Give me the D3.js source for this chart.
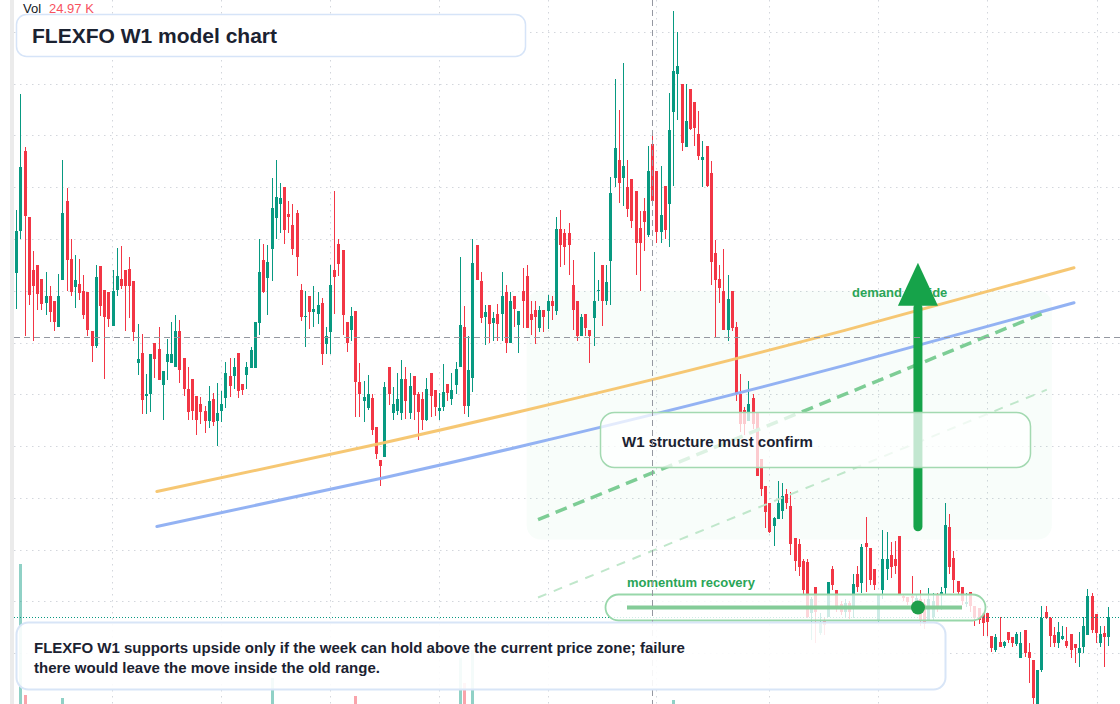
<!DOCTYPE html>
<html>
<head>
<meta charset="utf-8">
<script src="https://cdn.jsdelivr.net/npm/d3@7"></script>
<style>
  html, body { margin: 0; padding: 0; background: #ffffff; }
  svg { display: block; font-family: "Liberation Sans", Arial, Helvetica, sans-serif; }
</style>
</head>
<body>
<div id="wrap"></div>
<script>
//  Weekly candles, one value per week, oldest first
const opens = [
  76.7, 80.8, 88.5, 82.1, 77.0, 77.5, 76.1, 73.8, 74.5, 74.0,
  71.5, 76.0, 83.7, 78.1, 75.4, 75.7, 75.0, 74.9, 71.1, 69.7,
  77.4, 75.1, 74.9, 71.6, 75.1, 76.1, 77.0, 77.1, 75.9, 68.0,
  69.0, 64.8, 65.0, 70.0, 69.4, 65.9, 68.1, 68.0, 67.6, 71.1,
  68.5, 65.5, 66.5, 64.8, 64.1, 63.4, 62.4, 64.5, 62.4, 63.4,
  64.6, 66.8, 66.8, 69.0, 66.0, 66.9, 67.5, 67.5, 71.9, 78.0,
  76.2, 79.0, 82.0, 83.4, 85.0, 82.4, 81.4, 82.5, 75.1, 72.5,
  74.5, 72.9, 72.8, 73.8, 69.9, 71.0, 77.0, 79.5, 78.9, 72.0,
  71.2, 73.0, 66.2, 64.3, 63.7, 64.6, 61.8, 58.6, 58.9, 67.6,
  63.2, 63.4, 63.2, 66.5, 63.2, 66.8, 65.0, 64.5, 62.5, 67.1,
  65.4, 63.4, 63.8, 66.0, 64.5, 65.9, 67.6, 71.5, 63.9, 66.6,
  79.4, 75.9, 72.5, 73.6, 71.9, 72.8, 72.8, 74.9, 70.0, 74.5,
  71.7, 75.0, 76.4, 72.8, 73.1, 71.4, 73.1, 73.0, 74.0, 73.0,
  81.0, 80.6, 80.6, 75.6, 74.0, 70.6, 72.8, 71.2, 72.4, 75.0,
  77.5, 74.0, 77.9, 85.9, 87.6, 85.9, 85.0, 85.8, 84.6, 81.1,
  82.7, 80.4, 89.2, 86.6, 80.7, 85.1, 83.4, 92.3, 95.9, 95.0,
  88.9, 94.5, 93.2, 90.1, 87.6, 89.0, 86.4, 78.6, 76.1, 75.0,
  71.2, 75.0, 71.5, 65.0, 63.5, 62.4, 64.6, 63.3, 58.7, 56.1,
  54.5, 52.3, 52.9, 53.7, 55.4, 54.2, 51.1, 50.5, 48.9, 48.8,
  43.9, 46.4, 41.9, 43.2, 43.5, 48.1, 46.1, 44.7, 44.0, 44.8,
  44.5, 47.6, 46.8, 50.6, 50.1, 48.1, 43.2, 46.1, 48.1, 49.5,
  49.1, 51.3, 45.5, 45.4, 45.5, 44.8, 45.2, 44.7, 43.2, 43.5,
  45.6, 45.6, 46.3, 52.2, 49.2, 47.0, 46.4, 44.7, 45.9, 44.5,
  44.3, 43.9, 43.9, 41.6, 40.3, 41.1, 40.7, 42.0, 41.5, 40.9,
  39.5, 42.2, 40.1, 39.3, 35.1, 38.4, 44.0, 43.4, 41.7, 41.0,
  41.4, 41.2, 41.8, 40.9, 40.0, 40.6, 41.7, 45.5, 43.8, 41.0,
  41.9, 41.5
];
const highs = [
  82.8, 94.0, 88.9, 82.1, 78.8, 77.5, 76.1, 76.8, 75.5, 74.0,
  76.6, 87.6, 84.9, 80.0, 78.5, 78.1, 76.5, 74.9, 71.1, 77.5,
  77.4, 75.1, 74.9, 77.0, 79.1, 79.3, 77.0, 78.3, 75.9, 71.8,
  70.8, 67.0, 68.9, 70.0, 71.5, 67.2, 70.3, 72.0, 72.7, 72.2,
  68.5, 67.6, 66.5, 64.8, 64.7, 63.9, 65.8, 65.1, 66.1, 65.3,
  68.1, 68.5, 68.5, 69.0, 66.0, 68.1, 69.6, 72.0, 80.0, 79.5,
  79.4, 85.9, 87.6, 85.4, 85.0, 83.7, 83.4, 82.8, 75.7, 75.0,
  74.5, 75.5, 74.9, 74.3, 71.5, 77.5, 84.6, 80.0, 78.9, 72.0,
  73.4, 73.0, 68.0, 66.3, 66.9, 65.0, 61.8, 58.6, 66.2, 67.6,
  65.7, 67.1, 68.3, 67.6, 67.1, 66.8, 65.2, 65.2, 66.6, 67.1,
  65.4, 65.1, 67.9, 66.0, 67.1, 68.1, 78.3, 73.5, 70.6, 80.0,
  79.4, 76.8, 73.6, 73.6, 72.9, 73.7, 76.8, 75.6, 74.9, 74.5,
  73.0, 77.2, 77.5, 74.0, 74.0, 73.5, 73.1, 74.6, 74.5, 82.1,
  82.8, 81.0, 81.5, 78.0, 74.0, 72.8, 72.8, 71.2, 78.7, 76.0,
  77.5, 77.5, 86.0, 95.5, 92.5, 97.0, 87.6, 85.8, 84.6, 82.7,
  84.0, 89.0, 90.1, 86.6, 87.1, 85.1, 94.1, 102.0, 100.0, 95.0,
  95.0, 94.5, 93.2, 92.4, 89.5, 89.0, 87.5, 79.9, 77.5, 79.0,
  76.5, 75.0, 72.0, 67.0, 63.8, 66.3, 65.0, 63.3, 58.7, 56.1,
  54.5, 53.1, 56.6, 56.4, 55.8, 55.6, 51.1, 51.0, 49.1, 49.1,
  45.4, 46.4, 43.9, 43.4, 46.9, 48.4, 46.1, 45.0, 45.2, 45.0,
  47.6, 48.4, 50.5, 53.1, 50.1, 48.1, 45.6, 51.9, 51.7, 50.7,
  50.8, 51.3, 45.7, 45.4, 47.4, 45.6, 46.1, 45.2, 46.3, 45.8,
  45.8, 46.4, 54.5, 53.4, 49.9, 47.0, 46.4, 45.8, 45.9, 44.5,
  44.3, 43.9, 43.9, 41.6, 41.8, 43.5, 41.2, 42.0, 41.5, 42.0,
  42.0, 42.2, 41.0, 39.3, 38.4, 44.5, 44.5, 43.5, 42.5, 43.0,
  42.6, 42.5, 41.8, 40.9, 42.0, 43.5, 46.2, 45.8, 43.8, 42.6,
  42.6, 44.4
];
const lows = [
  73.2, 80.0, 70.6, 73.6, 70.1, 73.1, 73.1, 72.7, 72.0, 71.1,
  71.5, 76.0, 75.0, 74.5, 73.3, 74.1, 72.3, 70.6, 68.1, 69.5,
  72.6, 66.5, 71.5, 71.6, 74.5, 75.2, 71.1, 72.4, 70.1, 66.9,
  63.1, 63.1, 63.3, 66.6, 66.4, 62.5, 66.4, 68.0, 67.6, 66.1,
  64.8, 62.5, 62.5, 61.1, 62.1, 61.3, 61.7, 61.9, 60.0, 62.3,
  63.7, 64.7, 65.5, 64.6, 64.9, 65.5, 67.5, 67.5, 70.7, 74.8,
  72.7, 75.9, 80.0, 80.6, 79.5, 80.6, 78.5, 76.4, 72.1, 69.6,
  71.3, 71.5, 71.8, 67.8, 68.9, 68.9, 72.8, 76.4, 70.7, 69.1,
  70.1, 62.8, 62.8, 62.3, 63.5, 61.1, 58.7, 56.1, 58.9, 64.0,
  62.5, 63.0, 62.5, 62.6, 62.6, 62.5, 60.6, 61.5, 62.4, 62.8,
  62.9, 62.5, 63.4, 64.3, 64.0, 65.0, 67.6, 63.1, 62.8, 65.2,
  76.0, 71.9, 69.8, 70.0, 70.1, 70.1, 70.1, 69.0, 70.0, 71.5,
  69.0, 71.4, 71.4, 70.7, 69.9, 71.0, 71.0, 71.3, 72.2, 72.7,
  77.3, 77.5, 76.5, 71.2, 70.1, 70.6, 70.6, 68.0, 69.7, 74.0,
  71.6, 73.6, 73.6, 85.0, 83.5, 83.2, 82.1, 81.1, 76.5, 75.0,
  78.8, 80.2, 83.7, 79.6, 79.6, 80.0, 79.2, 85.1, 91.5, 88.5,
  88.9, 90.5, 89.0, 87.6, 85.0, 85.0, 75.6, 70.5, 73.8, 71.2,
  70.1, 71.1, 64.3, 61.4, 61.1, 62.4, 61.6, 57.1, 55.2, 52.1,
  51.6, 50.3, 52.9, 52.9, 53.9, 49.5, 47.9, 47.4, 45.6, 43.4,
  41.3, 41.0, 41.7, 41.7, 43.5, 46.1, 44.0, 43.7, 43.5, 43.3,
  43.4, 45.9, 45.8, 45.9, 46.6, 46.1, 43.0, 45.2, 47.1, 47.2,
  47.6, 45.6, 45.0, 44.6, 44.2, 44.0, 42.6, 42.3, 43.2, 43.2,
  44.0, 44.2, 45.6, 47.6, 45.8, 45.6, 44.6, 44.4, 44.0, 42.6,
  42.8, 41.6, 41.6, 40.1, 40.1, 40.6, 40.5, 41.0, 40.6, 40.7,
  39.5, 39.6, 37.1, 35.1, 34.8, 38.2, 43.3, 40.6, 40.6, 40.5,
  41.3, 40.5, 39.5, 39.0, 38.6, 40.0, 41.7, 41.9, 41.0, 40.6,
  38.6, 40.7
];
const closes = [
  80.8, 87.0, 82.2, 74.6, 75.5, 74.7, 73.7, 74.5, 72.9, 72.0,
  74.5, 82.5, 78.0, 74.9, 76.0, 74.8, 72.7, 71.2, 69.7, 76.3,
  73.5, 72.5, 72.3, 75.0, 76.4, 75.5, 75.5, 75.5, 71.0, 68.4,
  64.4, 65.0, 68.9, 68.4, 66.4, 67.2, 68.9, 68.9, 71.1, 67.3,
  65.5, 63.3, 63.4, 62.5, 63.3, 62.4, 64.3, 62.3, 63.2, 64.1,
  67.1, 65.8, 67.6, 65.3, 65.4, 67.6, 69.3, 72.0, 76.8, 74.9,
  77.8, 83.0, 84.1, 84.0, 80.9, 82.1, 79.0, 78.3, 72.5, 72.6,
  72.9, 73.2, 73.6, 68.9, 70.6, 75.6, 76.3, 77.6, 72.7, 70.0,
  72.6, 66.2, 65.0, 64.7, 65.0, 61.5, 59.2, 58.1, 65.7, 65.0,
  64.1, 64.5, 66.5, 64.3, 65.8, 64.9, 63.3, 62.5, 65.5, 64.8,
  63.8, 63.7, 65.2, 65.1, 65.4, 67.4, 71.7, 63.9, 67.3, 77.7,
  76.0, 72.4, 72.9, 71.8, 72.4, 71.8, 74.5, 70.0, 74.0, 73.2,
  73.0, 74.0, 71.4, 72.2, 72.5, 73.1, 72.5, 74.0, 73.5, 81.0,
  79.4, 79.2, 79.4, 73.1, 70.6, 72.5, 71.4, 70.6, 74.0, 75.1,
  74.0, 75.8, 84.4, 88.8, 85.4, 87.1, 82.9, 81.7, 79.6, 79.6,
  81.6, 86.6, 83.7, 80.7, 82.3, 80.9, 90.5, 96.2, 96.7, 89.3,
  91.4, 90.6, 90.7, 88.0, 87.9, 85.1, 77.8, 76.0, 75.3, 71.2,
  74.2, 71.4, 65.0, 62.1, 62.1, 64.1, 62.1, 57.1, 55.8, 53.6,
  51.7, 53.0, 54.5, 55.2, 54.5, 50.5, 48.9, 48.3, 46.1, 43.5,
  45.2, 44.0, 42.9, 42.7, 46.9, 46.6, 44.5, 44.0, 44.8, 44.0,
  46.7, 46.4, 50.2, 50.2, 47.1, 46.6, 45.6, 49.1, 49.1, 48.3,
  48.4, 45.6, 45.3, 44.9, 45.3, 45.3, 43.2, 42.8, 45.2, 45.0,
  44.4, 45.9, 52.4, 48.3, 47.1, 45.9, 45.0, 44.9, 44.5, 43.4,
  43.2, 42.9, 43.0, 40.5, 41.5, 40.6, 41.1, 41.3, 41.0, 41.8,
  41.0, 40.0, 39.5, 35.7, 38.4, 43.4, 43.4, 41.6, 41.0, 42.0,
  41.6, 40.7, 40.3, 40.5, 40.5, 42.6, 45.5, 42.2, 41.9, 41.8,
  41.5, 43.5
];

//  Only the volume bars that stand out in the picture (week index, volume in K)
const volumeWeeks = [1, 2, 11, 61, 81, 106, 107, 109, 157];
const volumeK = [3500, 225, 150, 650, 200, 1150, 525, 1350, 100];
const lastVolume = "24.97 K";

//  Grid: price levels and half-year week marks
const gridPrices = [40, 45, 50, 55, 60, 65, 70, 75, 80, 85, 90, 95, 100];
const gridWeeks = [22.9, 48.9, 75.0, 101.0, 127.1, 152.9, 179.9, 206.0, 232.0, 258.3];

//  Drawn objects, in (week, price)
const orangeTrend = [[33.6, 55.6], [88.4, 60.36], [143.2, 65.54], [198.0, 71.17], [252.8, 77.22]];
const blueTrend = [[33.6, 52.22], [88.4, 56.98], [143.2, 62.16], [198.0, 67.79], [252.8, 73.84]];
const greenDashUpper = [[124.7, 52.89], [246.3, 72.97]];
const greenDashLower = [[124.7, 45.36], [246.3, 65.44]];
const demandZone = { from: 122.0, to: 247.5, top: 75.0, bottom: 50.96 };
const arrowWeek = 215.5, arrowFrom = 52.2, arrowBase = 73.55, arrowTip = 77.7;
const crossWeek = 152, crossPrice = 70.5;

const W = 1120, H = 704;
const up = "#089981", down = "#f23645";

const x = d3.scaleLinear().domain([0, 261]).range([16.3, 1108.3]);
const y = d3.scaleLinear().domain([40, 100]).range([653, 32]);
const yVol = d3.scaleLinear().domain([0, 3600]).range([704, 560]);

const svg = d3.select("#wrap").append("svg")
  .attr("width", W).attr("height", H);

svg.append("rect").attr("width", W).attr("height", H).attr("fill", "#ffffff");
svg.append("rect").attr("x", 10).attr("y", 0).attr("width", 4).attr("height", H).attr("fill", "#ebebeb");

//  dotted grid
const grid = svg.append("g").attr("stroke", "#d3d6dc").attr("stroke-dasharray", "1.5,4.5");
grid.selectAll(".gh").data(gridPrices).enter().append("line")
  .attr("x1", 14).attr("x2", W)
  .attr("y1", d => Math.round(y(d)) + 0.5).attr("y2", d => Math.round(y(d)) + 0.5);
grid.selectAll(".gv").data(gridWeeks).enter().append("line")
  .attr("y1", 0).attr("y2", H)
  .attr("x1", d => Math.round(x(d)) + 0.5).attr("x2", d => Math.round(x(d)) + 0.5);

//  light demand zone behind the candles
svg.append("rect")
  .attr("x", x(demandZone.from)).attr("y", y(demandZone.top))
  .attr("width", x(demandZone.to) - x(demandZone.from))
  .attr("height", y(demandZone.bottom) - y(demandZone.top))
  .attr("rx", 14).attr("fill", "rgba(34,197,94,0.03)");

//  volume
svg.append("g").selectAll("rect").data(volumeWeeks).enter().append("rect")
  .attr("shape-rendering", "crispEdges")
  .attr("x", d => Math.round(x(d)) - 1).attr("width", 3)
  .attr("y", (d, k) => yVol(volumeK[k]))
  .attr("height", (d, k) => H - yVol(volumeK[k]))
  .attr("fill", d => closes[d] >= opens[d] ? "rgba(8,153,129,0.45)" : "rgba(242,54,69,0.45)");

//  candles
const candles = svg.append("g").attr("shape-rendering", "crispEdges");
const idx = d3.range(opens.length);
candles.selectAll(".wick").data(idx).enter().append("line")
  .attr("x1", i => Math.round(x(i)) + 0.5).attr("x2", i => Math.round(x(i)) + 0.5)
  .attr("y1", i => Math.round(y(highs[i]))).attr("y2", i => Math.round(y(lows[i])))
  .attr("stroke", i => closes[i] >= opens[i] ? up : down);
candles.selectAll(".body").data(idx).enter().append("rect")
  .attr("x", i => Math.round(x(i)) - 1).attr("width", 3)
  .attr("y", i => Math.round(y(Math.max(opens[i], closes[i]))))
  .attr("height", i => Math.max(1, Math.round(y(Math.min(opens[i], closes[i]))) - Math.round(y(Math.max(opens[i], closes[i])))))
  .attr("fill", i => closes[i] >= opens[i] ? up : down);

//  trend curves
const curve = d3.line().x(d => x(d[0])).y(d => y(d[1])).curve(d3.curveNatural);
svg.append("path").attr("d", curve(orangeTrend)).attr("fill", "none")
  .attr("stroke", "#f6c46c").attr("stroke-width", 3).attr("stroke-linecap", "round").attr("opacity", 0.95);
svg.append("path").attr("d", curve(blueTrend)).attr("fill", "none")
  .attr("stroke", "#8daef2").attr("stroke-width", 3).attr("stroke-linecap", "round").attr("opacity", 0.95);

const straight = d3.line().x(d => x(d[0])).y(d => y(d[1]));
svg.append("path").attr("d", straight(greenDashUpper)).attr("fill", "none")
  .attr("stroke", "#7dcd95").attr("stroke-width", 3.5).attr("stroke-dasharray", "12,7");
svg.append("path").attr("d", straight(greenDashLower)).attr("fill", "none")
  .attr("stroke", "#c0e7cb").attr("stroke-width", 2).attr("stroke-dasharray", "9,8");

//  label sits under the arrow head
svg.append("text").attr("x", 852).attr("y", 297)
  .attr("font-size", 13).attr("font-weight", "bold").attr("fill", "#2aa557")
  .text("demand upside");

const ax = x(arrowWeek);
svg.append("line").attr("x1", ax).attr("x2", ax)
  .attr("y1", y(arrowFrom)).attr("y2", y(arrowBase) + 2)
  .attr("stroke", "#16a34a").attr("stroke-width", 9).attr("stroke-linecap", "round");
svg.append("path")
  .attr("d", `M${ax - 20},${y(arrowBase)} L${ax + 20},${y(arrowBase)} L${ax},${y(arrowTip)} Z`)
  .attr("fill", "#16a34a");

//  last price line
const lastClose = closes[closes.length - 1];
svg.append("line").attr("x1", 14).attr("x2", W)
  .attr("y1", Math.round(y(lastClose)) + 0.5).attr("y2", Math.round(y(lastClose)) + 0.5)
  .attr("stroke", up).attr("stroke-dasharray", "1,2");

//  structure box
svg.append("rect").attr("x", 600.5).attr("y", 412.5).attr("width", 430).attr("height", 55)
  .attr("rx", 14).attr("fill", "rgba(255,255,255,0.74)")
  .attr("stroke", "#a3d9b1").attr("stroke-width", 1.5);
svg.append("text").attr("x", 622).attr("y", 447)
  .attr("font-size", 15).attr("font-weight", "bold").attr("fill", "#1b2231")
  .text("W1 structure must confirm");

//  momentum pill
svg.append("text").attr("x", 627).attr("y", 587)
  .attr("font-size", 13).attr("font-weight", "bold").attr("fill", "#2aa557")
  .text("momentum recovery");
svg.append("rect").attr("x", 605.5).attr("y", 594.5).attr("width", 380).attr("height", 26)
  .attr("rx", 13).attr("fill", "rgba(255,255,255,0.8)")
  .attr("stroke", "#98d7aa").attr("stroke-width", 1.8);
svg.append("line").attr("x1", 627).attr("x2", 962).attr("y1", 607.5).attr("y2", 607.5)
  .attr("stroke", "#84cc98").attr("stroke-width", 4);
svg.append("circle").attr("cx", 918).attr("cy", 607.5).attr("r", 7).attr("fill", "#1f9e4a");

//  crosshair
const cross = svg.append("g").attr("stroke", "#9598a1").attr("stroke-dasharray", "6,4");
cross.append("line").attr("x1", Math.round(x(crossWeek)) + 0.5).attr("x2", Math.round(x(crossWeek)) + 0.5)
  .attr("y1", 0).attr("y2", H);
cross.append("line").attr("x1", 14).attr("x2", W)
  .attr("y1", Math.round(y(crossPrice)) + 0.5).attr("y2", Math.round(y(crossPrice)) + 0.5);

//  note box at the bottom
svg.append("rect").attr("x", 16.5).attr("y", 622.5).attr("width", 929).attr("height", 67)
  .attr("rx", 12).attr("fill", "rgba(255,255,255,0.9)")
  .attr("stroke", "#d8e5f7").attr("stroke-width", 2);
const note = svg.append("text").attr("font-size", 15).attr("font-weight", "bold").attr("fill", "#1b2231");
note.append("tspan").attr("x", 34).attr("y", 653)
  .text("FLEXFO W1 supports upside only if the week can hold above the current price zone; failure");
note.append("tspan").attr("x", 34).attr("y", 673)
  .text("there would leave the move inside the old range.");

//  title
svg.append("rect").attr("x", 16.5).attr("y", 14.5).attr("width", 509).attr("height", 42)
  .attr("rx", 10).attr("fill", "rgba(255,255,255,0.96)")
  .attr("stroke", "#d6e4f8").attr("stroke-width", 1.5);
svg.append("text").attr("x", 32).attr("y", 43)
  .attr("font-size", 21).attr("font-weight", "bold").attr("fill", "#1b2231")
  .text("FLEXFO W1 model chart");

svg.append("text").attr("x", 23).attr("y", 13).attr("font-size", 13).attr("fill", "#131722").text("Vol");
svg.append("text").attr("x", 49).attr("y", 13).attr("font-size", 13).attr("fill", "#f7525f").text(lastVolume);
</script>
</body>
</html>
